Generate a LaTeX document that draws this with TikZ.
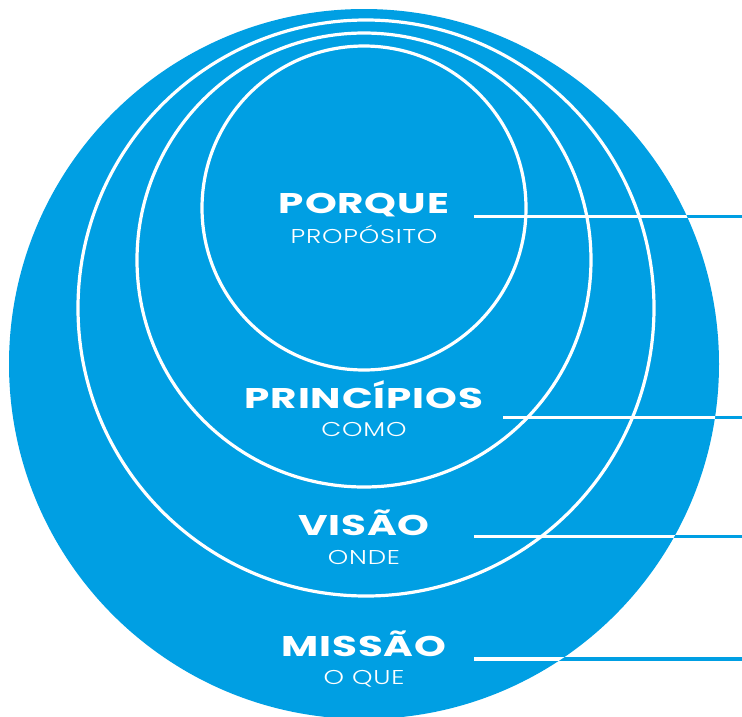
\documentclass[tikz,border=0pt]{standalone}
\usepackage{fontspec}
\setmainfont{Poppins}
\newfontfamily\titlefont{Poppins}[FakeStretch=1.42,LetterSpace=3]
\newfontfamily\subfont{Poppins Light}[FakeStretch=1.3,LetterSpace=4]
\definecolor{cblue}{HTML}{009FE3}
\begin{document}
\begin{tikzpicture}[x=1pt,y=-1pt,
  ring/.style={circle,draw=white,line width=3.2pt,inner sep=0pt},
  title/.style={anchor=base,text=white,inner sep=0pt,font=\titlefont\bfseries\fontsize{28.5}{30}\selectfont},
  sub/.style={anchor=base,text=white,inner sep=0pt,font=\subfont\fontsize{20}{22}\selectfont},
  blueline/.style={draw=cblue,line width=3.2pt},
  whiteline/.style={draw=white,line width=3.2pt}]
\useasboundingbox (0,0) rectangle (742,716);
\clip (0,0) rectangle (742,716);
% line coordinates
\coordinate (s1) at (474,216.5); \coordinate (e1) at (742,216.5);
\coordinate (s2) at (503,417.7); \coordinate (e2) at (742,417.7);
\coordinate (s3) at (474,536.7); \coordinate (e3) at (742,536.7);
\coordinate (s4) at (474,659);   \coordinate (e4) at (742,659);
\draw[blueline] (s1) -- (e1);
\draw[blueline] (s2) -- (e2);
\draw[blueline] (s3) -- (e3);
\draw[blueline] (s4) -- (e4);
% outer disc
\node[circle,fill=cblue,inner sep=0pt,minimum size=710pt] (outer) at (364,364) {};
% rings
\node[ring,minimum size=576pt] (r1) at (366,308) {};
\node[ring,minimum size=454pt] (r2) at (364,260) {};
\node[ring,minimum size=324pt] (r3) at (364,208) {};
% white part of the lines
\begin{scope}
\clip (364,364) circle (355);
\draw[whiteline] (s1) -- (e1);
\draw[whiteline] (s2) -- (e2);
\draw[whiteline] (s3) -- (e3);
\draw[whiteline] (s4) -- (e4);
\end{scope}
% labels
\node[title] (t1) at (364,213) {PORQUE};
\node[sub] (u1) at (364,243) {PROPÓSITO};
\node[title] (t2) at (364,408) {PRINCÍPIOS};
\node[sub] (u2) at (364,436) {COMO};
\node[title] (t3) at (364,535) {VISÃO};
\node[sub] (u3) at (364,564) {ONDE};
\node[title] (t4) at (364,656) {MISSÃO};
\node[sub] (u4) at (364,684) {O QUE};
\end{tikzpicture}
\end{document}
